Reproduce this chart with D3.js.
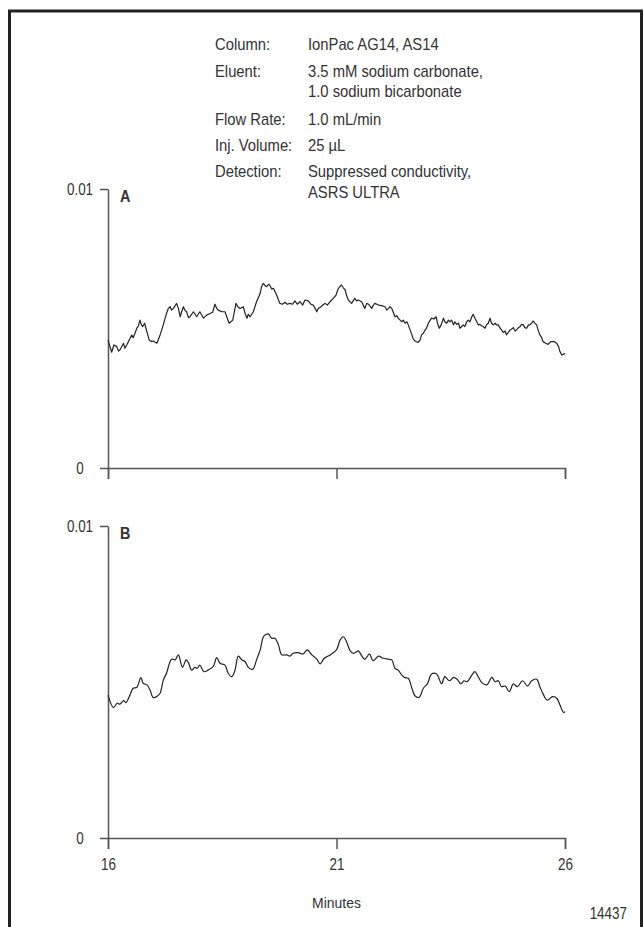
<!DOCTYPE html>
<html>
<head>
<meta charset="utf-8">
<script src="https://cdn.jsdelivr.net/npm/d3@7/dist/d3.min.js"></script>
<style>
  html, body { margin: 0; padding: 0; background: #fff; }
  svg { display: block; }
  text { font-family: "Liberation Sans", Arial, sans-serif; fill: #333; }
</style>
</head>
<body>
<svg id="chart" width="644" height="927"></svg>
<script>
// ---- data ----
const conditionLabels = ["Column:", "Eluent:", "", "Flow Rate:", "Inj. Volume:", "Detection:", ""];
const conditionValues = ["IonPac AG14, AS14", "3.5 mM sodium carbonate,", "1.0 sodium bicarbonate", "1.0 mL/min", "25 \u00B5L", "Suppressed conductivity,", "ASRS ULTRA"];
const xTicks = [16, 21, 26];
const yTicks = [0, 0.01];
const yTickLabels = ["0", "0.01"];
const xTitle = "Minutes";
const figureId = "14437";
const panelNames = ["A", "B"];

// Panel A: raw trace (minutes, signal)
const timeA = [16.00,16.08,16.13,16.19,16.23,16.26,16.34,16.37,16.41,16.52,16.55,16.59,16.63,16.66,16.70,16.73,16.76,16.80,16.83,16.90,
16.96,16.99,17.07,17.14,17.21,17.28,17.32,17.36,17.39,17.43,17.47,17.50,17.54,17.58,17.61,17.65,17.68,17.72,17.76,17.79,
17.87,17.94,18.01,18.09,18.16,18.23,18.29,18.34,18.38,18.41,18.49,18.56,18.61,18.65,18.73,18.80,18.84,18.89,18.96,19.00,
19.04,19.07,19.11,19.18,19.25,19.33,19.36,19.40,19.44,19.47,19.51,19.54,19.58,19.62,19.69,19.76,19.82,19.87,19.92,19.98,
20.04,20.09,20.14,20.20,20.26,20.31,20.38,20.44,20.49,20.53,20.57,20.60,20.64,20.70,20.75,20.80,20.86,20.93,20.99,21.04,
21.11,21.15,21.19,21.22,21.26,21.33,21.40,21.44,21.48,21.55,21.59,21.62,21.66,21.70,21.77,21.80,21.84,21.92,21.99,22.06,
22.10,22.14,22.17,22.21,22.28,22.32,22.35,22.43,22.46,22.50,22.54,22.57,22.61,22.65,22.68,22.72,22.79,22.83,22.86,22.90,
22.94,22.97,23.01,23.05,23.08,23.13,23.18,23.21,23.25,23.29,23.34,23.37,23.41,23.45,23.48,23.52,23.56,23.59,23.63,23.67,
23.70,23.74,23.77,23.81,23.85,23.88,23.92,23.96,23.99,24.03,24.07,24.10,24.14,24.17,24.21,24.25,24.28,24.32,24.36,24.39,
24.43,24.47,24.50,24.54,24.58,24.61,24.65,24.69,24.72,24.76,24.80,24.83,24.87,24.91,24.94,24.98,25.02,25.05,25.09,25.12,
25.16,25.20,25.23,25.27,25.30,25.34,25.38,25.41,25.45,25.49,25.52,25.58,25.63,25.69,25.76,25.82,25.86,25.89,25.93,25.97,26.00];
const signalA = [0.00459,0.00415,0.00441,0.00435,0.00419,0.00423,0.00447,0.00429,0.00441,0.00477,0.00467,0.00483,0.00501,0.00507,0.00530,0.00513,0.00507,0.00519,0.00501,0.00459,
0.00453,0.00455,0.00447,0.00477,0.00513,0.00554,0.00572,0.00578,0.00566,0.00572,0.00582,0.00590,0.00572,0.00542,0.00560,0.00578,0.00566,0.00560,0.00539,0.00542,
0.00560,0.00542,0.00560,0.00537,0.00548,0.00554,0.00558,0.00587,0.00572,0.00566,0.00560,0.00560,0.00537,0.00519,0.00530,0.00590,0.00578,0.00572,0.00578,0.00554,
0.00537,0.00551,0.00542,0.00560,0.00596,0.00626,0.00650,0.00662,0.00653,0.00650,0.00658,0.00656,0.00642,0.00644,0.00620,0.00590,0.00587,0.00594,0.00587,0.00590,
0.00587,0.00599,0.00587,0.00596,0.00584,0.00602,0.00599,0.00587,0.00584,0.00572,0.00560,0.00572,0.00575,0.00584,0.00590,0.00584,0.00596,0.00608,0.00620,0.00644,
0.00656,0.00646,0.00638,0.00618,0.00602,0.00590,0.00608,0.00599,0.00602,0.00596,0.00582,0.00572,0.00590,0.00587,0.00572,0.00582,0.00590,0.00584,0.00582,0.00578,
0.00566,0.00572,0.00578,0.00572,0.00542,0.00546,0.00537,0.00524,0.00530,0.00519,0.00524,0.00513,0.00495,0.00477,0.00462,0.00455,0.00450,0.00459,0.00477,0.00483,
0.00495,0.00501,0.00519,0.00530,0.00537,0.00534,0.00542,0.00519,0.00501,0.00513,0.00537,0.00524,0.00519,0.00530,0.00524,0.00530,0.00513,0.00524,0.00515,0.00519,
0.00501,0.00507,0.00513,0.00507,0.00524,0.00530,0.00524,0.00542,0.00551,0.00537,0.00524,0.00513,0.00515,0.00510,0.00507,0.00501,0.00513,0.00519,0.00537,0.00519,
0.00513,0.00519,0.00513,0.00513,0.00501,0.00495,0.00486,0.00491,0.00477,0.00486,0.00495,0.00498,0.00503,0.00491,0.00495,0.00503,0.00507,0.00515,0.00513,0.00503,
0.00501,0.00513,0.00513,0.00519,0.00527,0.00519,0.00513,0.00495,0.00477,0.00467,0.00453,0.00447,0.00443,0.00453,0.00453,0.00447,0.00435,0.00417,0.00405,0.00408,0.00411];

// Panel B: smoothed trace (minutes, signal)
const timeB = [16.00,16.12,16.20,16.26,16.34,16.39,16.48,16.55,16.63,16.72,16.77,16.86,16.92,16.99,17.08,17.14,17.21,17.28,17.39,17.47,
17.54,17.63,17.71,17.76,17.83,17.90,17.95,18.01,18.10,18.19,18.30,18.38,18.45,18.56,18.63,18.71,18.78,18.85,18.93,19.00,
19.07,19.17,19.25,19.33,19.41,19.51,19.58,19.65,19.73,19.80,19.91,19.98,20.05,20.16,20.27,20.36,20.46,20.57,20.64,20.73,
20.82,20.89,21.00,21.08,21.15,21.22,21.30,21.37,21.48,21.51,21.62,21.72,21.80,21.92,22.02,22.14,22.21,22.28,22.35,22.43,
22.50,22.57,22.65,22.72,22.81,22.90,22.99,23.08,23.19,23.30,23.37,23.47,23.56,23.64,23.72,23.79,23.86,23.96,24.03,24.10,
24.18,24.29,24.40,24.47,24.54,24.61,24.69,24.78,24.87,24.96,25.07,25.18,25.27,25.38,25.45,25.52,25.61,25.73,25.82,25.89,25.97,26.00];
const signalB = [0.00458,0.00418,0.00432,0.00429,0.00440,0.00434,0.00458,0.00480,0.00483,0.00514,0.00496,0.00490,0.00474,0.00450,0.00455,0.00464,0.00506,0.00528,0.00573,0.00571,
0.00587,0.00547,0.00571,0.00562,0.00538,0.00547,0.00544,0.00554,0.00533,0.00538,0.00549,0.00578,0.00560,0.00554,0.00528,0.00517,0.00538,0.00583,0.00571,0.00565,
0.00547,0.00541,0.00571,0.00603,0.00647,0.00654,0.00640,0.00640,0.00619,0.00587,0.00587,0.00583,0.00592,0.00594,0.00590,0.00603,0.00587,0.00573,0.00558,0.00576,
0.00583,0.00590,0.00603,0.00635,0.00645,0.00629,0.00600,0.00592,0.00600,0.00594,0.00573,0.00590,0.00568,0.00583,0.00576,0.00573,0.00571,0.00544,0.00538,0.00522,
0.00514,0.00512,0.00480,0.00455,0.00451,0.00480,0.00494,0.00526,0.00526,0.00494,0.00517,0.00504,0.00515,0.00509,0.00494,0.00504,0.00501,0.00522,0.00533,0.00517,
0.00498,0.00491,0.00515,0.00501,0.00504,0.00485,0.00487,0.00469,0.00494,0.00485,0.00504,0.00487,0.00504,0.00509,0.00485,0.00462,0.00442,0.00453,0.00448,0.00426,0.00402,0.00405];

// ---- drawing ----
const svg = d3.select("#chart");
const TEXT_SX = 0.87;   // condensed look for header text
const NUM_SX = 0.84;    // condensed look for numbers

function label(parent, x, y, str, size, sx, anchor, weight) {
  const g = parent.append("g").attr("transform", `translate(${x},${y}) scale(${sx},1)`);
  return g.append("text").attr("x", 0).attr("y", 0).attr("font-size", size)
    .attr("text-anchor", anchor || "start").attr("font-weight", weight || "normal").text(str);
}

// outer frame
svg.append("rect")
  .attr("x", 9.5).attr("y", 11).attr("width", 632).attr("height", 940)
  .attr("fill", "none").attr("stroke", "#222").attr("stroke-width", 3);

// conditions block
const condBaselines = [50, 77, 97, 125, 151, 177, 198];
conditionLabels.forEach((lab, i) => {
  if (lab) label(svg, 215, condBaselines[i], lab, 17, TEXT_SX);
  label(svg, 308, condBaselines[i], conditionValues[i], 17, TEXT_SX);
});

const x = d3.scaleLinear().domain([16, 26]).range([108, 565]);
const panels = [
  { name: panelNames[0], y: d3.scaleLinear().domain([0, 0.01]).range([468, 189]), time: timeA, signal: signalA, curve: d3.curveLinear, showX: false },
  { name: panelNames[1], y: d3.scaleLinear().domain([0, 0.01]).range([838, 526]), time: timeB, signal: signalB, curve: d3.curveCatmullRom.alpha(0.5), showX: true }
];

const axisColor = "#555";

panels.forEach(p => {
  const g = svg.append("g");
  // y axis
  const ya = g.append("g").attr("transform", "translate(108,0)")
    .call(d3.axisLeft(p.y).tickValues(yTicks).tickSize(8).tickSizeOuter(0)
      .tickFormat((d, i) => yTickLabels[i]));
  ya.select(".domain").attr("stroke", axisColor).attr("stroke-width", 1.5);
  ya.selectAll(".tick line").attr("stroke", axisColor).attr("stroke-width", 1.5);
  ya.selectAll(".tick text").attr("x", 0).attr("dy", "0.36em").attr("text-anchor", "middle")
    .attr("transform", `translate(-28,0) scale(${NUM_SX},1)`)
    .attr("font-size", 16).attr("fill", "#333").attr("font-family", "'Liberation Sans', Arial, sans-serif");

  // x axis
  const xa = g.append("g").attr("transform", `translate(0,${p.y(0)})`)
    .call(d3.axisBottom(x).tickValues(xTicks).tickSize(11).tickSizeOuter(11)
      .tickFormat(p.showX ? d3.format("d") : () => ""));
  xa.select(".domain").attr("stroke", axisColor).attr("stroke-width", 1.5);
  xa.selectAll(".tick line").attr("stroke", axisColor).attr("stroke-width", 1.5);
  xa.selectAll(".tick text").attr("y", 0).attr("dy", 0)
    .attr("transform", `translate(0,32) scale(${NUM_SX},1)`)
    .attr("font-size", 16).attr("fill", "#333").attr("font-family", "'Liberation Sans', Arial, sans-serif");

  // panel letter
  label(g, 120, p.y(0.01) + 13, p.name, 16, 0.9, "start", "bold");

  // trace
  const line = d3.line().x((d, i) => x(p.time[i])).y((d, i) => p.y(p.signal[i])).curve(p.curve);
  g.append("path").datum(p.signal).attr("d", line)
    .attr("fill", "none").attr("stroke", "#222").attr("stroke-width", 1.2).attr("stroke-linejoin", "round");
});

// x title and figure id
label(svg, x(21), 908, xTitle, 15.5, 0.9, "middle");
label(svg, 627, 919, figureId, 16, NUM_SX, "end");
</script>
</body>
</html>
